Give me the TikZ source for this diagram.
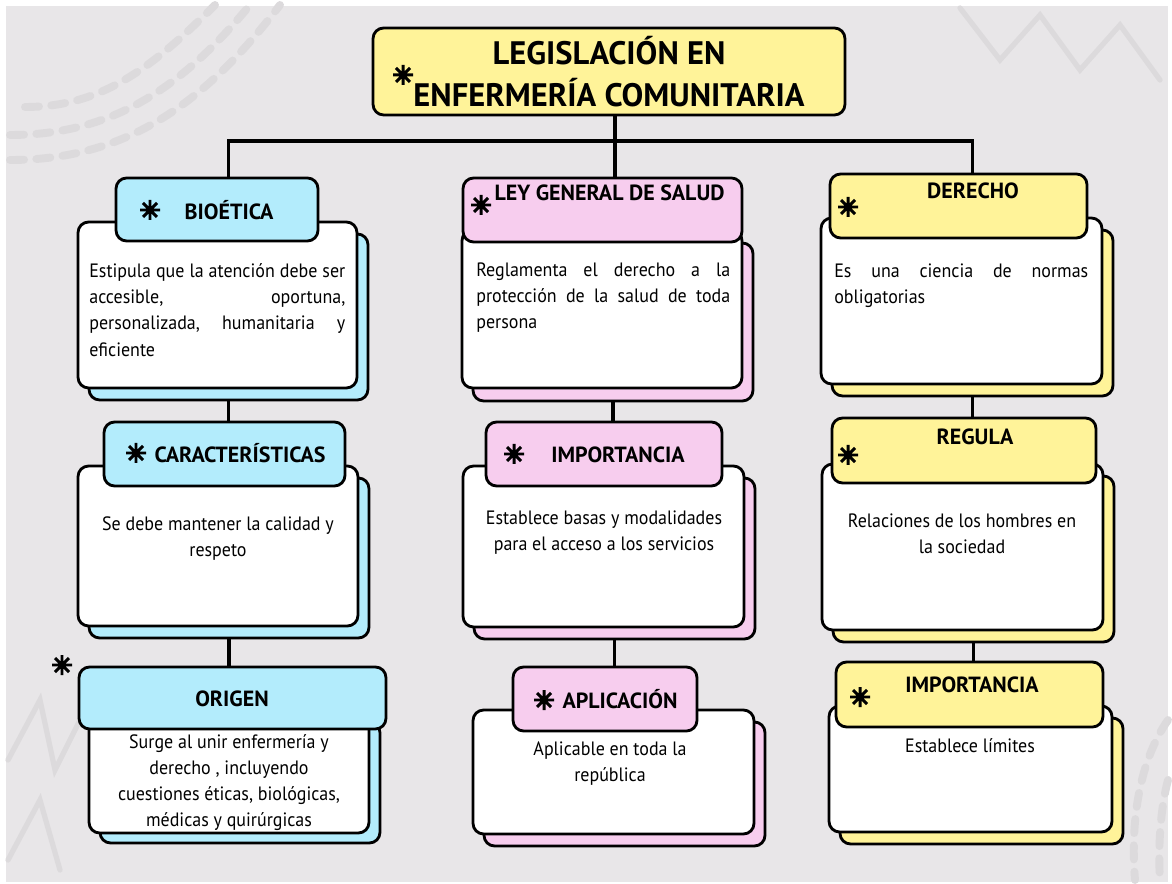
\documentclass[tikz,border=0pt]{standalone}
\usepackage{fontspec}
\setmainfont{PT Sans}
\newfontfamily\bodyfamily{PT Sans}[FakeStretch=0.93]
\usetikzlibrary{positioning}

\definecolor{paper}{HTML}{E8E6E8}
\definecolor{decogray}{HTML}{DCDADC}
\definecolor{skyblue}{HTML}{B3ECFC}
\definecolor{rosepink}{HTML}{F7CDEE}
\definecolor{lemon}{HTML}{FFF399}

% one justified line of a given width
\newcommand{\fillline}[2]{\leavevmode\hbox to #1{#2}}

\tikzset{
  box/.style={draw, line width=1.6pt, rounded corners=6pt, inner sep=0pt},
  cardbox/.style={box, fill=white},
  shadebox/.style={box, fill=#1},
  headbox/.style={box, fill=#1},
  headtxt/.style={inner sep=0pt, font=\fontsize{12.5}{14}\selectfont\bfseries},
  bodytxt/.style={inner sep=0pt, anchor=north, align=center, font=\bodyfamily\fontsize{11}{15}\selectfont},
  link/.style={line width=2.2pt},
  deco/.style={decogray, line width=4.5pt, line cap=round},
  spark/.pic={\draw[line width=1.7pt] (-10,0) -- (10,0) (0,-10) -- (0,10)
      (-7,-7) -- (7,7) (-7,7) -- (7,-7);}
}

\begin{document}
\begin{tikzpicture}[x=0.02cm, y=-0.02cm]
        \useasboundingbox (0,0) rectangle (1172,884);
        \fill[white] (0,0) rectangle (1172,884);
        \fill[paper] (6,6) rectangle (1168,882);
        %% background marks
        \draw[deco, dash pattern=on 8pt off 7pt] (10,160) .. controls (120,160) and (200,110) .. (280,5);
        \draw[deco, dash pattern=on 8pt off 7pt] (10,135) .. controls (110,135) and (180,90) .. (250,5);
        \draw[deco, dash pattern=on 8pt off 7pt] (25,107) .. controls (100,107) and (150,70) .. (215,5);
        \draw[deco, line width=3pt] (8,760) -- (40,700) -- (55,770) -- (95,690) -- (110,760);
        \draw[deco, line width=3pt] (8,860) -- (40,800) -- (60,870);
        \draw[deco, line width=3pt] (960,8) -- (1000,60) -- (1040,15) -- (1080,70) -- (1120,25) -- (1160,80);
        \draw[deco, dash pattern=on 8pt off 7pt] (1168,720) .. controls (1140,760) and (1130,820) .. (1135,880);
        \draw[deco, dash pattern=on 8pt off 7pt] (1168,780) .. controls (1160,810) and (1158,850) .. (1160,880);

        %% title
        \node[headbox=lemon, minimum width=9.44cm, minimum height=1.74cm, align=center,
              font=\fontsize{18.5}{24}\selectfont\bfseries] (title) at (609,71.5)
              {LEGISLACIÓN EN\\ENFERMERÍA COMUNITARIA};
        \pic at (403,75) {spark};

        %% left column
        \node[shadebox=skyblue, minimum width=5.58cm, minimum height=3.32cm] (bioS) at (228.5,317) {};
        \node[cardbox, minimum width=5.58cm, minimum height=3.32cm] (bioC) at (217.5,305) {};
        \node[headbox=skyblue, minimum width=4.04cm, minimum height=1.26cm] (bioH) at (217,209.5) {};
        \node[headtxt] (bioT) at (229,210) {BIOÉTICA};
        \pic at (150,210) {spark};
        \node[bodytxt, anchor=north west, align=left, text width=5.12cm] (bioB) at (89,263)
              {\fillline{5.12cm}{Estipula\hfill que\hfill la\hfill atención\hfill debe\hfill ser}\\
               \fillline{5.12cm}{accesible,\hfill oportuna,}\\
               \fillline{5.12cm}{personalizada,\hfill humanitaria\hfill y}\\eficiente};

        \node[shadebox=skyblue, minimum width=5.6cm, minimum height=3.2cm] (carS) at (229,558) {};
        \node[cardbox, minimum width=5.6cm, minimum height=3.2cm] (carC) at (218,546) {};
        \node[headbox=skyblue, minimum width=4.82cm, minimum height=1.28cm] (carH) at (224.5,454) {};
        \node[headtxt] (carT) at (240,453) {CARACTERÍSTICAS};
        \pic at (136,453) {spark};
        \node[bodytxt] (carB) at (218,516) {Se debe mantener la calidad y\\respeto};

        \node[shadebox=skyblue, minimum width=5.6cm, minimum height=2.42cm] (oriS) at (240,782.5) {};
        \node[cardbox, minimum width=5.6cm, minimum height=2.42cm] (oriC) at (229,772.5) {};
        \node[headbox=skyblue, minimum width=6.14cm, minimum height=1.24cm] (oriH) at (232.5,698) {};
        \node[headtxt] (oriT) at (232,699) {ORIGEN};
        \pic at (62,665) {spark};
        \node[bodytxt, font=\bodyfamily\fontsize{11}{14.8}\selectfont] (oriB) at (229,734)
              {Surge al unir enfermería y\\derecho , incluyendo\\cuestiones éticas, biológicas,\\médicas y quirúrgicas};

        %% middle column
        \node[shadebox=rosepink, minimum width=5.6cm, minimum height=3.16cm] (leyS) at (613,322) {};
        \node[cardbox, minimum width=5.6cm, minimum height=3.16cm] (leyC) at (602,309) {};
        \node[headbox=rosepink, minimum width=5.58cm, minimum height=1.28cm] (leyH) at (602.5,210) {};
        \node[headtxt] (leyT) at (609.5,193) {LEY GENERAL DE SALUD};
        \pic at (481,205) {spark};
        \node[bodytxt, anchor=north west, align=left, text width=5.08cm] (leyB) at (476,262)
              {\fillline{5.08cm}{Reglamenta\hfill el\hfill derecho\hfill a\hfill la}\\
               \fillline{5.08cm}{protección\hfill de\hfill la\hfill salud\hfill de\hfill toda}\\persona};

        \node[shadebox=rosepink, minimum width=5.62cm, minimum height=3.22cm] (impS) at (614.5,558.5) {};
        \node[cardbox, minimum width=5.62cm, minimum height=3.22cm] (impC) at (603.5,546.5) {};
        \node[headbox=rosepink, minimum width=4.72cm, minimum height=1.28cm] (impH) at (604,454) {};
        \node[headtxt] (impT) at (618,455) {IMPORTANCIA};
        \pic at (514,454) {spark};
        \node[bodytxt] (impB) at (604,510) {Establece basas y modalidades\\para el acceso a los servicios};

        \node[shadebox=rosepink, minimum width=5.62cm, minimum height=2.48cm] (aplS) at (624.5,784) {};
        \node[cardbox, minimum width=5.62cm, minimum height=2.48cm] (aplC) at (613.5,772) {};
        \node[headbox=rosepink, minimum width=3.68cm, minimum height=1.28cm] (aplH) at (605,699) {};
        \node[headtxt] (aplT) at (620,699) {APLICACIÓN};
        \pic at (544,700) {spark};
        \node[bodytxt] (aplB) at (610,741) {Aplicable en toda la\\república};

        %% right column
        \node[shadebox=lemon, minimum width=5.62cm, minimum height=3.32cm] (derS) at (972.5,313) {};
        \node[cardbox, minimum width=5.62cm, minimum height=3.32cm] (derC) at (961.5,301) {};
        \node[headbox=lemon, minimum width=5.14cm, minimum height=1.28cm] (derH) at (958.5,206) {};
        \node[headtxt] (derT) at (973,191) {DERECHO};
        \pic at (848,207) {spark};
        \node[bodytxt, anchor=north west, align=left, text width=5.08cm] (derB) at (834,263)
              {\fillline{5.08cm}{Es\hfill una\hfill ciencia\hfill de\hfill normas}\\obligatorias};

        \node[shadebox=lemon, minimum width=5.62cm, minimum height=3.32cm] (regS) at (973.5,559) {};
        \node[cardbox, minimum width=5.62cm, minimum height=3.32cm] (regC) at (962.5,547) {};
        \node[headbox=lemon, minimum width=5.28cm, minimum height=1.3cm] (regH) at (964,450.5) {};
        \node[headtxt] (regT) at (975,437) {REGULA};
        \pic at (848,455) {spark};
        \node[bodytxt] (regB) at (962,513) {Relaciones de los hombres en\\la sociedad};

        \node[shadebox=lemon, minimum width=5.66cm, minimum height=2.52cm] (impbS) at (981.5,781) {};
        \node[cardbox, minimum width=5.66cm, minimum height=2.52cm] (impbC) at (970.5,769) {};
        \node[headbox=lemon, minimum width=5.34cm, minimum height=1.3cm] (impbH) at (969.5,694.5) {};
        \node[headtxt] (impbT) at (972,685) {IMPORTANCIA};
        \pic at (860,697) {spark};
        \node[bodytxt] (impbB) at (970,738) {Establece límites};

        %% connectors
        \coordinate (hub) at (615,141);
        \draw[link] (title.south -| hub) -- (hub);
        \draw[link] (bioS.north |- bioH.north) |- (hub) -| (derS.north |- derH.north);
        \draw[link] (hub) -- (hub |- leyH.north);
        \draw[link] (bioS.south) -- (bioS.south |- carH.north);
        \draw[link] (carS.south) -- (carS.south |- oriH.north);
        \draw[link] (leyS.south) -- (leyS.south |- impH.north);
        \draw[link] (impS.south) -- (impS.south |- aplH.north);
        \draw[link] (derS.south) -- (derS.south |- regH.north);
        \draw[link] (regS.south) -- (regS.south |- impbH.north);
\end{tikzpicture}
\end{document}
